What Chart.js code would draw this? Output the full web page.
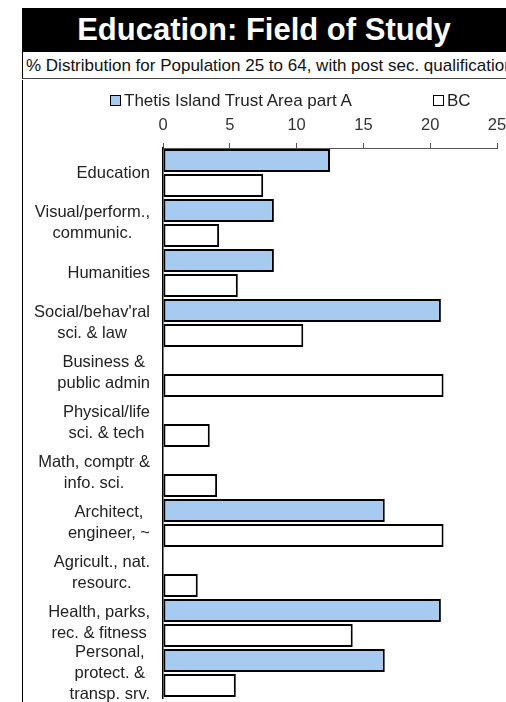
<!DOCTYPE html>
<html>
<head>
<meta charset="utf-8">
<script src="https://cdn.jsdelivr.net/npm/chart.js@4.4.1/dist/chart.umd.min.js"></script>
<style>
  body { margin: 0; background: #fff; font-family: "Liberation Sans", Arial, sans-serif; }
  #page { position: relative; width: 506px; height: 702px; overflow: hidden; }
  #title { position: absolute; left: 22px; top: 8px; width: 484px; height: 44px; background: #000;
           color: #fff; font-weight: bold; font-size: 31px; line-height: 44px; text-align: center; }
  #sub { position: absolute; left: 22px; top: 52px; width: 484px; height: 27px; border-left: 1px solid #000;
         border-bottom: 1px solid #444; box-sizing: border-box; font-size: 17px; line-height: 27px;
         padding-left: 3px; white-space: nowrap; overflow: hidden; color: #111; }
  #box { position: absolute; left: 22px; top: 80px; width: 484px; height: 622px; border-left: 1px solid #000; box-sizing: border-box; }
  #chartWrap { position: absolute; left: 22px; top: 80px; width: 484px; height: 622px; }
  .leg { position: absolute; top: 91px; font-size: 17px; color: #222; white-space: nowrap; }
  .leg i { display: inline-block; width: 9px; height: 9px; border: 1.5px solid #000; margin-right: 3px; vertical-align: 0px; }
</style>
</head>
<body>
<div id="page">
  <div id="title">Education: Field of Study</div>
  <div id="sub">% Distribution for Population 25 to 64, with post sec. qualification</div>
  <div id="box"></div>
  <div id="chartWrap"><canvas id="fieldChart" width="484" height="622"></canvas></div>
  <div class="leg" id="leg0" style="left:110px"><i></i><span></span></div>
  <div class="leg" id="leg1" style="left:433px"><i></i><span></span></div>
</div>
<script>
var categories = [
  ['Education'],
  ['Visual/perform.,', 'communic.'],
  ['Humanities'],
  ["Social/behav'ral", 'sci. & law'],
  ['Business &', 'public admin'],
  ['Physical/life', 'sci. & tech'],
  ['Math, comptr &', 'info. sci.'],
  ['Architect,', 'engineer, ~'],
  ['Agricult., nat.', 'resourc.'],
  ['Health, parks,', 'rec. & fitness'],
  ['Personal,', 'protect. &', 'transp. srv.']
];
var seriesNames = ['Thetis Island Trust Area part A', 'BC'];
var thetis = [12.5, 8.3, 8.3, 20.8, 0, 0, 0, 16.6, 0, 20.8, 16.6];
var bc = [7.5, 4.2, 5.6, 10.5, 21.0, 3.5, 4.05, 21.0, 2.6, 14.2, 5.45];
var xTicks = [0, 5, 10, 15, 20, 25];

var colors = ['#a6caf0', '#ffffff'];

// html legend
for (var k = 0; k < 2; k++) {
  var el = document.getElementById('leg' + k);
  el.querySelector('span').textContent = seriesNames[k];
  el.querySelector('i').style.background = colors[k];
}

// draw the category labels: right aligned block, lines centered
var catLabels = {
  id: 'catLabels',
  afterDraw: function(chart) {
    var ctx = chart.ctx;
    var ys = chart.scales.y;
    var right = 128;
    var lh = 21;
    ctx.save();
    ctx.font = '16.5px "Liberation Sans", Arial, sans-serif';
    ctx.fillStyle = '#222';
    ctx.textAlign = 'center';
    ctx.textBaseline = 'middle';
    for (var i = 0; i < categories.length; i++) {
      var lines = categories[i];
      var w = 0;
      lines.forEach(function(t) { w = Math.max(w, ctx.measureText(t).width); });
      var cx = right - w / 2;
      var cy = ys.getPixelForTick(i);
      for (var j = 0; j < lines.length; j++) {
        ctx.fillText(lines[j], cx, cy + (j - (lines.length - 1) / 2) * lh);
      }
    }
    ctx.restore();
  }
};

var ctx = document.getElementById('fieldChart').getContext('2d');
var myChart = new Chart(ctx, {
  type: 'bar',
  data: {
    labels: categories,
    datasets: [{
      label: seriesNames[0],
      data: thetis,
      backgroundColor: colors[0],
      borderColor: '#000',
      borderWidth: 2,
      borderSkipped: false
    }, {
      label: seriesNames[1],
      data: bc,
      backgroundColor: colors[1],
      borderColor: '#000',
      borderWidth: 2,
      borderSkipped: false
    }]
  },
  options: {
    indexAxis: 'y',
    responsive: false,
    animation: false,
    devicePixelRatio: 1,
    layout: { padding: { top: 0, right: 9, bottom: 4, left: 0 } },
    datasets: { bar: { barPercentage: 0.92, categoryPercentage: 1.0 } },
    plugins: { legend: { display: false }, tooltip: { enabled: false } },
    scales: {
      x: {
        position: 'top',
        min: 0,
        max: 25,
        afterBuildTicks: function(s) { s.ticks = xTicks.map(function(v) { return { value: v }; }); },
        afterFit: function(s) { s.height = 68; s.paddingRight = 0; s.paddingLeft = 0; },
        ticks: {
          color: '#333',
          padding: 8,
          maxRotation: 0,
          font: { family: '"Liberation Sans", Arial, sans-serif', size: 16.5 }
        },
        grid: { drawOnChartArea: false, drawTicks: true, tickLength: 5, color: '#555' },
        border: { display: true, color: '#555', width: 1 }
      },
      y: {
        afterFit: function(s) { s.width = 141; },
        ticks: { display: false },
        grid: { display: true, drawOnChartArea: false, drawTicks: false },
        border: { display: true, color: '#000', width: 1.5 }
      }
    }
  },
  plugins: [catLabels]
});
</script>
</body>
</html>
